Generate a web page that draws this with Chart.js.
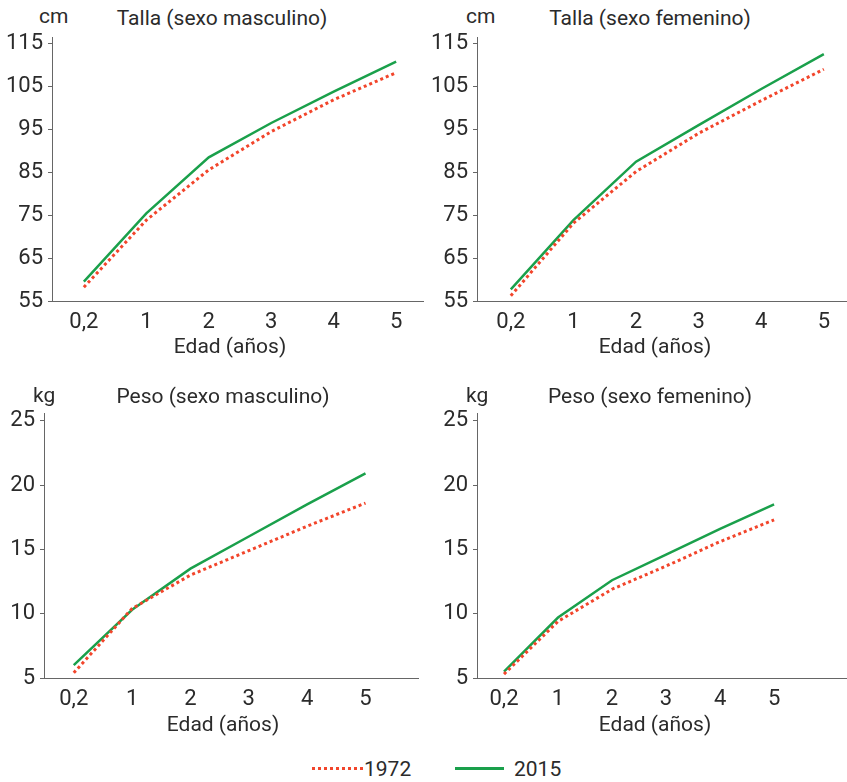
<!DOCTYPE html>
<html lang="es">
<head>
<meta charset="utf-8">
<title>Talla y peso por edad, 1972 y 2015</title>
<script src="https://cdn.jsdelivr.net/npm/chart.js@4/dist/chart.umd.min.js"></script>
<style>
  body { margin: 0; background: #fff; font-family: Roboto, sans-serif; color: #2b2b2b; }
  #page { position: relative; width: 847px; height: 782px; overflow: hidden; }
  canvas { position: absolute; }
  .lbl { position: absolute; font-size: 21px; line-height: 21px; white-space: nowrap; }
  .mid { transform: translateX(-50%); }
  .key { position: absolute; height: 3px; }
  .key.dot { background: repeating-linear-gradient(90deg, #f2452b 0 3px, transparent 3px 6px); }
  .key.solid { background: #1aa04b; height: 2.5px; }
</style>
</head>
<body>
<div id="page">
  <canvas id="tallaMasc" width="424" height="312" style="left:0;top:30px"></canvas>
  <canvas id="tallaFem" width="423" height="312" style="left:424px;top:30px"></canvas>
  <canvas id="pesoMasc" width="424" height="313" style="left:0;top:406px"></canvas>
  <canvas id="pesoFem" width="423" height="313" style="left:424px;top:406px"></canvas>

  <div class="lbl" style="left:39px;top:6px">cm</div>
  <div class="lbl mid" style="left:222px;top:8px">Talla (sexo masculino)</div>
  <div class="lbl" style="left:466px;top:6px">cm</div>
  <div class="lbl mid" style="left:650px;top:8px">Talla (sexo femenino)</div>
  <div class="lbl mid" style="left:230px;top:336px">Edad (años)</div>
  <div class="lbl mid" style="left:655px;top:336px">Edad (años)</div>

  <div class="lbl" style="left:33px;top:385px">kg</div>
  <div class="lbl mid" style="left:223px;top:386px">Peso (sexo masculino)</div>
  <div class="lbl" style="left:466px;top:385px">kg</div>
  <div class="lbl mid" style="left:650px;top:386px">Peso (sexo femenino)</div>
  <div class="lbl mid" style="left:223px;top:714px">Edad (años)</div>
  <div class="lbl mid" style="left:655px;top:714px">Edad (años)</div>

  <div class="key dot" style="left:312px;top:767px;width:51px"></div>
  <div class="lbl" style="left:364px;top:759px">1972</div>
  <div class="key solid" style="left:455px;top:767px;width:49px"></div>
  <div class="lbl" style="left:514px;top:759px">2015</div>
</div>

<script>
const edades = ['0,2', '1', '2', '3', '4', '5'];
const series = ['1972', '2015'];
const tallaTicks = [55, 65, 75, 85, 95, 105, 115];
const pesoTicks = [5, 10, 15, 20, 25];

const tallaMasc1972 = [58.2, 73.8, 85.5, 94.4, 101.8, 108.1];
const tallaMasc2015 = [59.5, 75.4, 88.4, 96.4, 103.7, 110.7];
const tallaFem1972 = [56.2, 73.1, 85.1, 94.0, 101.6, 108.9];
const tallaFem2015 = [57.7, 73.8, 87.4, 95.9, 104.3, 112.4];
const pesoMasc1972 = [5.4, 10.4, 13.0, 14.9, 16.8, 18.6];
const pesoMasc2015 = [6.0, 10.3, 13.5, 16.0, 18.5, 20.9];
const pesoFem1972 = [5.3, 9.4, 11.9, 13.7, 15.6, 17.3];
const pesoFem2015 = [5.5, 9.7, 12.6, 14.6, 16.6, 18.5];

const ROJO = '#f2452b';
const VERDE = '#1aa04b';
const TEXTO = '#2b2b2b';
const EJE = '#666';
const fuente = { family: 'Roboto', size: 22 };

function puntos(vals) {
    return vals.map((v, i) => ({ x: i, y: v }));
}

// sin margen extra por las etiquetas: el area del grafico la fija layout.padding
function sinMargen(s) {
    s.paddingTop = 0;
    s.paddingBottom = 0;
    s.paddingLeft = 0;
    s.paddingRight = 0;
}

function crearGrafico(id, d1972, d2015, yTicks, cfg) {
    const ctx = document.getElementById(id).getContext('2d');
    return new Chart(ctx, {
        type: 'line',
        data: {
            datasets: [{
                label: series[0],
                data: puntos(d1972),
                borderColor: ROJO,
                borderWidth: 3,
                borderDash: [3, 3],
                borderCapStyle: 'butt',
                pointRadius: 0,
                tension: 0
            }, {
                label: series[1],
                data: puntos(d2015),
                borderColor: VERDE,
                borderWidth: 2.5,
                pointRadius: 0,
                tension: 0
            }]
        },
        options: {
            responsive: false,
            animation: false,
            layout: { padding: { top: 7, right: cfg.padRight, bottom: 0, left: 0 } },
            plugins: { legend: { display: false }, tooltip: { enabled: false } },
            scales: {
                x: {
                    type: 'linear',
                    min: cfg.xMin,
                    max: cfg.xMax,
                    afterBuildTicks: (s) => { s.ticks = edades.map((_, i) => ({ value: i })); },
                    afterFit: (s) => { s.height = cfg.xHeight; sinMargen(s); },
                    ticks: {
                        callback: (v) => edades[v],
                        font: fuente,
                        color: TEXTO,
                        padding: 8,
                        maxRotation: 0,
                        autoSkip: false
                    },
                    grid: { display: false, drawTicks: false },
                    border: { display: true, color: EJE, width: 1 }
                },
                y: {
                    min: yTicks[0],
                    max: cfg.yMax,
                    afterBuildTicks: (s) => { s.ticks = yTicks.map(v => ({ value: v })); },
                    afterFit: (s) => { s.width = cfg.yWidth; sinMargen(s); },
                    ticks: { font: fuente, color: TEXTO, padding: 5 },
                    grid: { drawOnChartArea: false, drawTicks: true, tickLength: 4, color: EJE },
                    border: { display: true, color: EJE, width: 1 }
                }
            }
        }
    });
}

crearGrafico('tallaMasc', tallaMasc1972, tallaMasc2015, tallaTicks,
    { yMax: 116.4, xMin: -0.51, xMax: 5.43, yWidth: 52, padRight: 1, xHeight: 41 });
crearGrafico('tallaFem', tallaFem1972, tallaFem2015, tallaTicks,
    { yMax: 116.4, xMin: -0.54, xMax: 5.37, yWidth: 53, padRight: 0, xHeight: 41 });
crearGrafico('pesoMasc', pesoMasc1972, pesoMasc2015, pesoTicks,
    { yMax: 25.6, xMin: -0.51, xMax: 5.9, yWidth: 44, padRight: 6, xHeight: 41 });
crearGrafico('pesoFem', pesoFem1972, pesoFem2015, pesoTicks,
    { yMax: 25.6, xMin: -0.5, xMax: 6.35, yWidth: 53, padRight: 0, xHeight: 41 });
</script>
</body>
</html>
